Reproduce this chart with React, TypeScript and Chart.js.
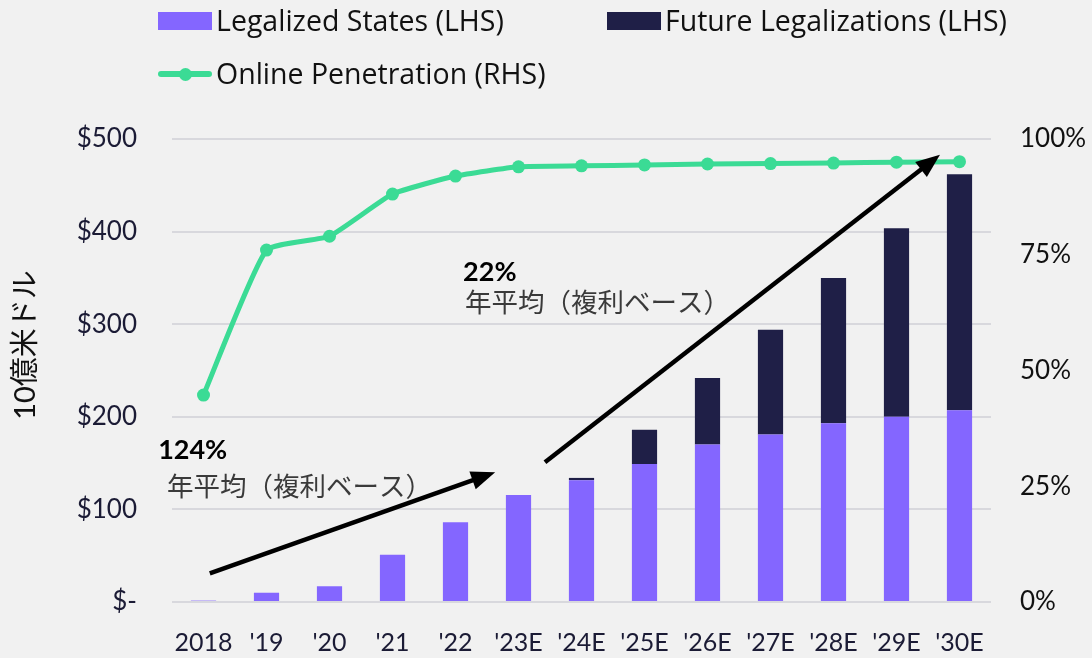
import React, { useEffect, useRef } from "react";
import { Chart, registerables } from "chart.js";

Chart.register(...registerables);

// ---------- data ----------
const categories = ["2018", "'19", "'20", "'21", "'22", "'23E", "'24E", "'25E", "'26E", "'27E", "'28E", "'29E", "'30E"];
const legalizedStates = [1.5, 10, 17, 51, 86, 115.5, 131.5, 149, 170, 181, 193, 200, 207];
const futureLegalizations = [0, 0, 0, 0, 0, 0, 2.5, 37, 72, 113, 157, 203.5, 255];
const onlinePenetration = [44.7, 76, 79, 88.1, 92, 94, 94.2, 94.4, 94.6, 94.7, 94.8, 95, 95.1];
const leftTicks = [0, 100, 200, 300, 400, 500];
const rightTicks = [0, 25, 50, 75, 100];

const seriesNames = ["Legalized States (LHS)", "Future Legalizations (LHS)", "Online Penetration (RHS)"];
const axisTitle = "10億米ドル";

// CAGR arrows, in (category index, $bn) coordinates
const arrowFrom = [[0.1, 31], [5.42, 151]];
const arrowTo = [[4.63, 140], [11.69, 483]];
// CAGR labels, in (category index, $bn) coordinates
const cagrValues = ["124%", "22%"];
const cagrValuePos = [[-0.72, 164], [4.12, 356]];
const cagrNote = "年平均（複利ベース）";
const cagrNotePos = [[-0.58, 125], [4.15, 324]];

// ---------- styles ----------
const BG = "#F1F1F1";
const PURPLE = "#8466FF";
const NAVY = "#1F1F47";
const GREEN = "#3BDB95";
const INK = "#1B1B35";
const FONT = "Lato, 'Noto Sans CJK JP', sans-serif";
const LEGEND_FONT = "'Open Sans', sans-serif";
const CJK = "'Noto Sans CJK JP', Lato, sans-serif";

const annotationPlugin = {
  id: "cagrAnnotations",
  afterDatasetsDraw(chart: any) {
    const ctx = chart.ctx as CanvasRenderingContext2D;
    const xs = chart.scales.x;
    const ys = chart.scales.y;
    const px = (i: number) => {
      const a = xs.getPixelForValue(0);
      const b = xs.getPixelForValue(1);
      return a + (b - a) * i;
    };
    const py = (v: number) => ys.getPixelForValue(v);
    ctx.save();
    for (let k = 0; k < arrowFrom.length; k++) {
      const x1 = px(arrowFrom[k][0]);
      const y1 = py(arrowFrom[k][1]);
      const x2 = px(arrowTo[k][0]);
      const y2 = py(arrowTo[k][1]);
      const ang = Math.atan2(y2 - y1, x2 - x1);
      const headLen = 24;
      const headHalf = 9.5;
      const bx = x2 - headLen * Math.cos(ang);
      const by = y2 - headLen * Math.sin(ang);
      ctx.strokeStyle = "#000";
      ctx.lineWidth = 4.5;
      ctx.lineCap = "butt";
      ctx.beginPath();
      ctx.moveTo(x1, y1);
      ctx.lineTo(bx + 2 * Math.cos(ang), by + 2 * Math.sin(ang));
      ctx.stroke();
      ctx.fillStyle = "#000";
      ctx.beginPath();
      ctx.moveTo(x2, y2);
      ctx.lineTo(bx + headHalf * Math.sin(ang), by - headHalf * Math.cos(ang));
      ctx.lineTo(bx - headHalf * Math.sin(ang), by + headHalf * Math.cos(ang));
      ctx.closePath();
      ctx.fill();
    }
    ctx.textAlign = "left";
    ctx.textBaseline = "middle";
    for (let k = 0; k < cagrValues.length; k++) {
      ctx.fillStyle = "#000";
      ctx.font = `bold 27px ${FONT}`;
      ctx.fillText(cagrValues[k], px(cagrValuePos[k][0]), py(cagrValuePos[k][1]));
      ctx.fillStyle = "#3a3a3a";
      ctx.font = `26.5px ${CJK}`;
      ctx.fillText(cagrNote, px(cagrNotePos[k][0]), py(cagrNotePos[k][1]));
    }
    ctx.restore();
  },
  afterDraw(chart: any) {
    const ctx = chart.ctx as CanvasRenderingContext2D;
    ctx.save();
    ctx.translate(26, 345);
    ctx.rotate(-Math.PI / 2);
    ctx.textAlign = "center";
    ctx.textBaseline = "middle";
    ctx.fillStyle = "#111";
    ctx.font = `29px ${FONT}`;
    ctx.fillText(axisTitle, 0, 0);
    ctx.restore();
  },
};

export default function App() {
  const canvasRef = useRef<HTMLCanvasElement | null>(null);

  useEffect(() => {
    document.body.style.margin = "0";
    document.body.style.background = BG;
    const canvas = canvasRef.current;
    if (!canvas) return;
    const chart = new Chart(canvas, {
      type: "bar",
      data: {
        labels: categories,
        datasets: [
          {
            type: "bar",
            label: seriesNames[0],
            data: legalizedStates,
            yAxisID: "y",
            backgroundColor: PURPLE,
            borderWidth: 0,
            barPercentage: 0.8,
            categoryPercentage: 0.5,
            stack: "bars",
            order: 1,
          },
          {
            type: "bar",
            label: seriesNames[1],
            data: futureLegalizations,
            yAxisID: "y",
            backgroundColor: NAVY,
            borderWidth: 0,
            barPercentage: 0.8,
            categoryPercentage: 0.5,
            stack: "bars",
            order: 1,
          },
          {
            type: "line",
            label: seriesNames[2],
            data: onlinePenetration,
            yAxisID: "y1",
            borderColor: GREEN,
            backgroundColor: GREEN,
            borderWidth: 5,
            pointRadius: 6.5,
            pointBackgroundColor: GREEN,
            pointBorderWidth: 0,
            tension: 0.15,
            stack: "line",
            order: 0,
          } as any,
        ],
      },
      options: {
        responsive: false,
        animation: false,
        devicePixelRatio: 1,
        layout: { padding: { top: 139, bottom: 0, left: 0, right: 0 } },
        plugins: {
          legend: { display: false },
          tooltip: { enabled: false },
        },
        scales: {
          x: {
            stacked: true,
            grid: { display: false },
            border: { display: false },
            ticks: {
              color: INK,
              font: { family: FONT, size: 25 },
              padding: 18,
              maxRotation: 0,
              autoSkip: false,
            },
            afterFit(scale: any) {
              scale.height = 56;
            },
          },
          y: {
            type: "linear",
            position: "left",
            stacked: true,
            min: 0,
            max: 500,
            afterBuildTicks(scale: any) {
              scale.ticks = leftTicks.map((v) => ({ value: v }));
            },
            grid: { color: "#D8D8DD", lineWidth: 2, drawTicks: false },
            border: { display: false },
            ticks: {
              color: INK,
              font: { family: FONT, size: 26 },
              padding: 35,
              callback: (v: any) => (Number(v) === 0 ? "$-" : "$" + v),
            },
            afterFit(scale: any) {
              scale.width = 172;
            },
          },
          y1: {
            type: "linear",
            position: "right",
            min: 0,
            max: 100,
            afterBuildTicks(scale: any) {
              scale.ticks = rightTicks.map((v) => ({ value: v }));
            },
            grid: { display: false, drawTicks: false },
            border: { display: false },
            ticks: {
              color: "#111",
              font: { family: FONT, size: 26 },
              padding: 29,
              callback: (v: any) => v + "%",
            },
            afterFit(scale: any) {
              scale.width = 101;
            },
          },
        },
      },
      plugins: [annotationPlugin],
    });
    return () => chart.destroy();
  }, []);

  const legendText: React.CSSProperties = {
    position: "absolute",
    fontFamily: LEGEND_FONT,
    fontSize: 28.5,
    color: "#111",
    lineHeight: "32px",
    whiteSpace: "nowrap",
  };

  return (
    <div style={{ position: "fixed", left: 0, top: 0, width: 1092, height: 658, background: BG, overflow: "hidden" }}>
      <canvas ref={canvasRef} width={1092} height={658} style={{ position: "absolute", left: 0, top: 0, width: 1092, height: 658 }} />
      <div style={{ position: "absolute", left: 158, top: 12, width: 54, height: 18, background: PURPLE }} />
      <div style={{ ...legendText, left: 216, top: 4 }}>{seriesNames[0]}</div>
      <div style={{ position: "absolute", left: 607, top: 12, width: 54, height: 18, background: NAVY }} />
      <div style={{ ...legendText, left: 665, top: 4 }}>{seriesNames[1]}</div>
      <div style={{ position: "absolute", left: 158, top: 71, width: 54, height: 6, borderRadius: 3, background: GREEN }} />
      <div style={{ position: "absolute", left: 178.5, top: 67.5, width: 13, height: 13, borderRadius: "50%", background: GREEN }} />
      <div style={{ ...legendText, left: 216, top: 57 }}>{seriesNames[2]}</div>
    </div>
  );
}
